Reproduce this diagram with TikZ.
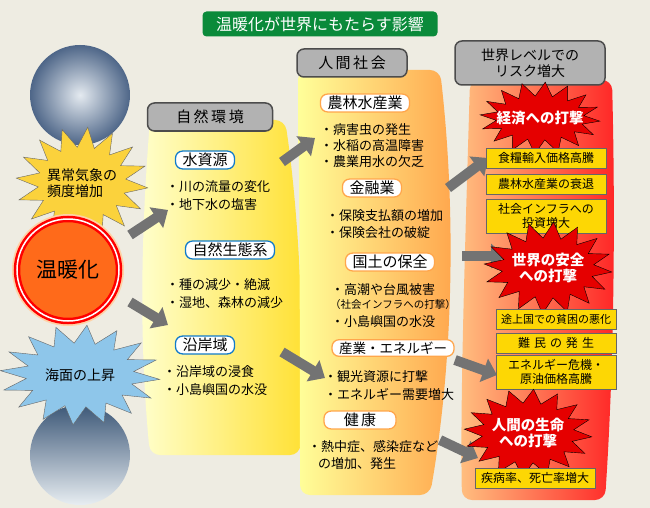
\documentclass[tikz,border=0pt]{standalone}
\usepackage{fontspec}
\setmainfont{Noto Sans CJK JP}
\usetikzlibrary{shapes.geometric,arrows.meta,shadings}
\definecolor{bg}{HTML}{EEECE2}
\definecolor{tgreen}{HTML}{0A8A3A}
\definecolor{tyin}{HTML}{E4EAF0}
\definecolor{tyout}{HTML}{4E6688}
\definecolor{wvtop}{HTML}{3D5878}
\definecolor{wvbot}{HTML}{E8EEF2}
\definecolor{bstar}{HTML}{8EC6EA}
\definecolor{ystar}{HTML}{FBD23C}
\definecolor{sun}{HTML}{FF6A1A}
\newcommand{\myburst}[7]{% cx cy Rx Ry rx ry style
 \path[#7] plot[samples=33,domain=0:32,variable=\k] ({#1+ifthenelse(mod(\k,2)==0,#3,#5)*cos(\k*360/32+5)},{#2+ifthenelse(mod(\k,2)==0,#4,#6)*sin(\k*360/32+5)}) -- cycle;}
\begin{document}
\begin{tikzpicture}[x=1pt,y=-1pt,
 hdr/.style={draw=black!70,line width=1.5pt,fill=black!30,rounded corners=7pt,font=\fontsize{15}{17}\selectfont,align=center,inner sep=3pt},
 wbox/.style={draw=#1,line width=1.3pt,fill=white,rounded corners=7pt,font=\fontsize{15}{16}\selectfont,inner xsep=7pt,inner ysep=2pt},
 bul/.style={anchor=west,font=\fontsize{13}{14}\selectfont,inner sep=0pt},
 ybox/.style={draw=black!60,fill=yellow!75!orange,font=\fontsize{12}{14}\selectfont,align=center,inner sep=1pt,text width=#1,minimum height=20pt},
 rtext/.style={font=\fontsize{14.5}{16.5}\selectfont\bfseries,text=white,align=center,inner sep=0pt},
 ga/.style={-{Triangle[length=14pt,width=24pt]},line width=10pt,draw=black!55}]
\fill[bg] (0,0) rectangle (650,508);
\useasboundingbox (0,0) rectangle (650,508);
% bands
\shade[left color=yellow!20,right color=yellow!70!orange!80,rounded corners=10pt] (150,120) .. controls (140,250) and (140,350) .. (150,455) -- (300,455) .. controls (305,350) and (300,220) .. (285,120) -- cycle;
\shade[left color=yellow!40,right color=orange!70,rounded corners=10pt] (298,70) .. controls (300,250) and (300,400) .. (300,495) -- (430,495) .. controls (455,350) and (455,200) .. (440,70) -- cycle;
\shade[left color=orange!50,right color=red!85,rounded corners=10pt] (470,80) .. controls (465,250) and (460,400) .. (462,500) -- (605,500) .. controls (615,350) and (615,200) .. (612,80) -- cycle;
% title
\node[fill=tgreen,rounded corners=4pt,text=white,font=\fontsize{16}{18}\selectfont,minimum width=235pt,minimum height=25pt] (title) at (320,24) {温暖化が世界にもたらす影響};
% headers
\node[hdr,minimum width=125pt,minimum height=28pt] (h1) at (210,117) {自\,然\,環\,境};
\node[hdr,minimum width=110pt,minimum height=28pt] (h2) at (352,63) {人\,間\,社\,会};
\node[hdr,minimum width=150pt,minimum height=44pt,font=\fontsize{14}{16}\selectfont] (h3) at (530,63) {世界レベルでの\\リスク増大};
% left images
\shade[inner color=tyin,outer color=tyout] (80,95) circle (50);
\node[circle,minimum size=100pt] (typhoon) at (80,95) {};
\begin{scope}
\clip (0,0) rectangle (650,508);
\shade[top color=wvtop,bottom color=wvbot] (80,455) circle (50);
\end{scope}
\node[circle,minimum size=100pt] (wave) at (80,455) {};
\myburst{82}{183}{66}{56}{44}{36}{fill=ystar,draw=black!60}
\node[font=\fontsize{14}{16}\selectfont,align=left] (s1) at (82,183) {異常気象の\\頻度増加};
\node[circle,minimum size=112pt,fill=orange!35] (sunout) at (68,270) {};
\node[circle,minimum size=102pt,fill=sun,draw=red,line width=2.5pt,double=white,double distance=1.5pt,font=\fontsize{21}{22}\selectfont] (warm) at (68,270) {温暖化};
\myburst{80}{375}{80}{50}{54}{32}{fill=bstar,draw=black!60}
\node[font=\fontsize{14}{15}\selectfont] (s2) at (80,375) {海面の上昇};
% arrows
\coordinate (a1) at (130,235); \coordinate (b1) at (168,210);
\coordinate (a2) at (130,302); \coordinate (b2) at (168,325);
\coordinate (a3) at (282,162); \coordinate (b3) at (315,138);
\coordinate (a4) at (282,352); \coordinate (b4) at (325,378);
\coordinate (a5) at (448,188); \coordinate (b5) at (488,158);
\coordinate (a6) at (462,256); \coordinate (b6) at (505,256);
\coordinate (a7) at (455,360); \coordinate (b7) at (497,375);
\coordinate (a8) at (440,440); \coordinate (b8) at (478,458);
\foreach \i in {1,...,8} \draw[ga] (a\i) -- (b\i);
% band 1
\node[wbox=cyan!60!blue] (n1) at (205,160) {水資源};
\node[bul] (t1) at (166,187) {・川の流量の変化};
\node[bul] (t2) at (166,205) {・地下水の塩害};
\node[wbox=cyan!60!blue] (n2) at (230,250) {自然生態系};
\node[bul] (t3) at (166,285) {・種の減少・絶滅};
\node[bul] (t4) at (166,303) {・湿地、森林の減少};
\node[wbox=cyan!60!blue] (n3) at (205,345) {沿岸域};
\node[bul] (t5) at (163,372) {・沿岸域の浸食};
\node[bul] (t6) at (163,390) {・小島嶼国の水没};
% band 2
\node[wbox=orange!70] (m1) at (365,103) {農林水産業};
\node[bul] (u1) at (320,130) {・病害虫の発生};
\node[bul] (u2) at (320,146) {・水稲の高温障害};
\node[bul] (u3) at (320,162) {・農業用水の欠乏};
\node[wbox=orange!70] (m2) at (372,188) {金融業};
\node[bul] (u4) at (326,216) {・保険支払額の増加};
\node[bul] (u5) at (326,233) {・保険会社の破綻};
\node[wbox=orange!70] (m3) at (390,262) {国土の保全};
\node[bul] (u6) at (331,290) {・高潮や台風被害};
\node[bul,font=\fontsize{10.5}{11}\selectfont] (u7) at (330,305) {（社会インフラへの打撃）};
\node[bul] (u8) at (331,322) {・小島嶼国の水没};
\node[wbox=orange!70,font=\fontsize{13.5}{15}\selectfont] (m4) at (393,348) {産業・エネルギー};
\node[bul] (u9) at (324,377) {・観光資源に打撃};
\node[bul] (u10) at (324,394) {・エネルギー需要増大};
\node[wbox=orange!70,minimum width=72pt] (m5) at (360,420) {健\,康};
\node[bul] (u11) at (308,447) {・熱中症、感染症など};
\node[bul] (u12) at (318,464) {の増加、発生};
% band 3
\myburst{540}{118}{60}{36}{44}{22}{fill=red!90!black,draw=black}
\node[rtext] (r1) at (540,118) {経済への打撃};
\node[ybox=118pt] (y1) at (546,158) {食糧輸入価格高騰};
\node[ybox=118pt] (y2) at (546,184) {農林水産業の衰退};
\node[ybox=118pt,minimum height=34pt] (y3) at (546,216) {社会インフラへの\\投資増大};
\myburst{548}{268}{64}{46}{46}{30}{fill=red!90!black,draw=black}
\node[rtext] (r2) at (548,268) {世界の安全\\への打撃};
\node[ybox=118pt,font=\fontsize{11}{13}\selectfont] (y4) at (556,319) {途上国での貧困の悪化};
\node[ybox=118pt] (y5) at (556,343) {難\ 民\ の\ 発\ 生};
\node[ybox=118pt,minimum height=34pt] (y6) at (556,372) {エネルギー危機・\\原油価格高騰};
\myburst{528}{433}{64}{44}{46}{30}{fill=red!90!black,draw=black}
\node[rtext] (r3) at (528,433) {人間の生命\\への打撃};
\node[ybox=118pt] (y7) at (535,478) {疾病率、死亡率増大};
\end{tikzpicture}
\end{document}
